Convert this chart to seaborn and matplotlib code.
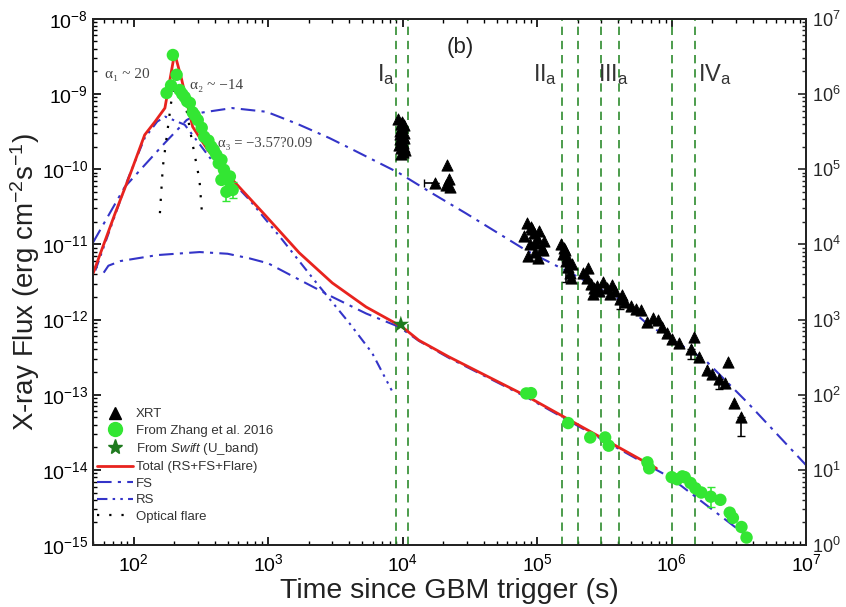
import numpy as np
import pandas as pd
import matplotlib
matplotlib.use("Agg")
import matplotlib.pyplot as plt
from matplotlib.lines import Line2D
import seaborn as sns

# ---------------- data ----------------
xrt_t = [9300, 9500, 9600, 9700, 9800, 9900, 10000, 10100, 10200, 10300, 10400, 9400, 9650, 9850,
         10050, 10250, 9550, 9750, 9950, 10150,
         17500, 21500, 22000, 22500, 21000,
         80000, 84000, 88000, 92000, 96000, 100000, 104000, 108000, 112000, 86000, 94000, 102000,
         110000, 90000, 98000,
         150000, 155000, 160000, 165000, 170000, 175000, 180000, 158000, 168000, 178000,
         220000, 235000, 250000, 265000, 280000, 240000, 260000, 290000,
         310000, 330000, 350000, 380000, 410000, 450000, 500000, 540000, 360000, 430000,
         590000, 660000, 790000, 720000, 850000, 930000, 1.0e6, 1.14e6, 1.47e6, 1.4e6, 1.6e6,
         1.83e6, 2.0e6, 2.24e6, 2.5e6, 2.6e6, 2.9e6, 3.3e6]
xrt_f = [4.6e-10, 3.2e-10, 2.5e-10, 4.0e-10, 1.9e-10, 3.6e-10, 2.8e-10, 2.2e-10, 3.0e-10, 2.6e-10,
         1.8e-10, 2.1e-10, 3.4e-10, 2.4e-10, 1.7e-10, 3.9e-10, 2.9e-10, 1.6e-10, 4.3e-10, 2.0e-10,
         6.5e-11, 1.15e-10, 7.5e-11, 5.8e-11, 6.2e-11,
         1.3e-11, 1.9e-11, 1.0e-11, 1.6e-11, 8e-12, 1.2e-11, 1.5e-11, 9e-12, 1.1e-11, 7e-12,
         1.4e-11, 6.5e-12, 8.5e-12, 1.7e-11, 1.05e-11,
         1e-11, 7.5e-12, 8.5e-12, 6e-12, 5e-12, 4.2e-12, 5.5e-12, 9e-12, 6.8e-12, 3.6e-12,
         4.2e-12, 3.6e-12, 3e-12, 2.6e-12, 2.8e-12, 4.8e-12, 2.2e-12, 2.4e-12,
         3.2e-12, 2.6e-12, 2.2e-12, 2.4e-12, 1.9e-12, 1.7e-12, 1.5e-12, 1.4e-12, 2.9e-12, 2.1e-12,
         1.35e-12, 9.3e-13, 9.9e-13, 1.05e-12, 8e-13, 6.6e-13, 5.5e-13, 4.9e-13, 5.8e-13, 4e-13,
         3.2e-13, 2.1e-13, 1.9e-13, 1.6e-13, 1.44e-13, 2.7e-13, 7.8e-14, 5e-14]
# a few visible error bars on XRT points
xrt_err_t = [17500, 3.3e6, 165000, 1.4e6, 2.24e6, 410000]
xrt_err_f = [6.5e-11, 5e-14, 6e-12, 4e-13, 1.6e-13, 1.9e-12]
xrt_err_tlo = [3000, 0, 0, 0, 0, 0]
xrt_err_thi = [0, 0, 0, 0, 0, 0]
xrt_err_flo = [0, 2.2e-14, 2.8e-12, 1e-13, 4e-14, 5e-13]
xrt_err_fhi = [0, 0, 0, 0, 0, 0]

zhang_t = [196, 190, 176, 209, 220, 230, 240, 250, 262, 275, 285, 300, 321, 335, 360, 378, 395,
           412, 430, 450, 470, 450, 500, 490, 520, 545,
           83000, 90000, 1.7e5, 2.48e5, 3.2e5, 3.4e5, 6.6e5, 6.8e5, 1.0e6, 1.1e6, 1.2e6, 1.25e6,
           1.38e6, 1.5e6, 1.66e6, 1.95e6, 2.3e6, 2.7e6, 2.85e6, 3.3e6, 3.6e6]
zhang_f = [3.3e-9, 1.3e-9, 1.03e-9, 1.8e-9, 1.13e-9, 1.0e-9, 9.1e-10, 8e-10, 7.6e-10, 5.7e-10,
           5.2e-10, 4.5e-10, 3.55e-10, 2.7e-10, 2.4e-10, 2e-10, 1.8e-10, 1.56e-10, 1.2e-10, 1.33e-10,
           9.8e-11, 7.2e-11, 7.2e-11, 5e-11, 8e-11, 5.3e-11,
           1.04e-13, 1.05e-13, 4.2e-14, 2.7e-14, 2.7e-14, 2.1e-14, 1.26e-14, 1.05e-14, 8e-15, 7.5e-15,
           8.2e-15, 8e-15, 6.7e-15, 5.7e-15, 5e-15, 4.4e-15, 4e-15, 2.7e-15, 2.3e-15, 1.74e-15, 1.26e-15]
zhang_err_t = [490, 545, 1.95e6]
zhang_err_f = [5e-11, 5.3e-11, 4.4e-15]
zhang_err_lo = [1.2e-11, 1.2e-11, 1.2e-15]
zhang_err_hi = [1.5e-11, 1.5e-11, 1.5e-15]

swift_t = [9700]
swift_f = [8.6e-13]

total_t = [50, 73, 91, 121, 144, 171, 202, 228, 275, 356, 500, 545, 940, 1706, 3000, 5350, 9900,
           13200, 22000, 86000, 770000]
total_f = [4.1e-12, 2.6e-11, 7.2e-11, 2.86e-10, 4.26e-10, 6.5e-10, 3.5e-9, 1.55e-9, 3.66e-10,
           1.8e-10, 8.9e-11, 7.2e-11, 2.5e-11, 7.7e-12, 3.07e-12, 1.47e-12, 8e-13, 5.3e-13, 3.2e-13,
           9.3e-14, 1.05e-14]

fs_x_t = [50, 86, 171, 248, 309, 540, 973, 1650, 2850, 4010, 9400, 16500, 29400, 82000, 1.8e5,
          4e5, 6.7e5, 1.77e6, 3.7e6, 1e7]
fs_x_f = [1.06e-11, 5.8e-11, 2.24e-10, 4.5e-10, 5.6e-10, 6.5e-10, 5.8e-10, 4.0e-10, 2.6e-10,
          1.92e-10, 8.9e-11, 4.8e-11, 2.6e-11, 8.4e-12, 4.1e-12, 1.9e-12, 8.5e-13, 2.9e-13, 7.7e-14,
          1.15e-14]

fs_o_t = [60, 65, 80, 150, 310, 500, 730, 1000, 1700, 3000, 5370, 9400, 13200, 22000, 86000,
          770000, 970000, 3.7e6]
fs_o_f = [4.2e-12, 5.2e-12, 6.0e-12, 7.2e-12, 7.9e-12, 7.5e-12, 6.5e-12, 5.6e-12, 3.4e-12, 2e-12,
          1.2e-12, 8e-13, 5.2e-13, 3.1e-13, 9e-14, 1.0e-14, 8e-15, 1.28e-15]

rs_t = [52, 70, 91, 121, 150, 172, 240, 380, 728, 1276, 2280, 4010, 5930, 8300]
rs_f = [4.5e-12, 2.0e-11, 7.5e-11, 2.6e-10, 4.3e-10, 5e-10, 3.9e-10, 1.33e-10, 3.9e-11, 1.15e-11,
        3.1e-12, 9e-13, 3.6e-13, 1.14e-13]

flare_t = [157, 165, 190, 209, 240, 271, 309, 321]
flare_f = [2.6e-11, 1.07e-10, 7.6e-10, 1.64e-9, 8.4e-10, 2.45e-10, 7.2e-11, 2.9e-11]

vlines_t = [8900, 11000, 1.52e5, 2.0e5, 3.0e5, 4.05e5, 1.0e6, 1.5e6]
region_labels = ["I", "II", "III", "IV"]
region_label_t = [6460, 92500, 2.85e5, 1.57e6]

right_ticks = [1e0, 1e1, 1e2, 1e3, 1e4, 1e5, 1e6, 1e7]

# ---------------- style ----------------
sns.set_theme(style="ticks")
plt.rcParams['font.family'] = ['Liberation Sans', 'DejaVu Sans']
plt.rcParams['mathtext.fontset'] = 'custom'
plt.rcParams['mathtext.rm'] = 'Liberation Sans'
plt.rcParams['mathtext.it'] = 'Liberation Sans:italic'
plt.rcParams['mathtext.bf'] = 'Liberation Sans:bold'

RED = "#e8231e"
BLUE = "#3434c8"
GREEN = "#33e633"
DGREEN = "#1f7a1f"
VGREEN = "#2e8b2e"

fig = plt.figure(figsize=(8.46, 6.07), dpi=100)
ax = fig.add_axes([0.110, 0.102, 0.843, 0.867])
ax.set_xscale('log')
ax.set_yscale('log')
ax.set_xlim(50, 1e7)
ax.set_ylim(1e-15, 1e-8)

# vertical dashed lines
for t in vlines_t:
    ax.axvline(t, color=VGREEN, lw=1.2, dashes=(5, 3.5), zorder=1)

# model curves
sns.lineplot(x=fs_x_t, y=fs_x_f, ax=ax, color=BLUE, lw=1.5, sort=False, estimator=None,
             zorder=3).lines[-1].set_dashes((7, 3, 1.5, 3))
sns.lineplot(x=fs_o_t, y=fs_o_f, ax=ax, color=BLUE, lw=1.5, sort=False, estimator=None,
             zorder=3).lines[-1].set_dashes((7, 3, 1.5, 3))
sns.lineplot(x=rs_t, y=rs_f, ax=ax, color=BLUE, lw=1.5, sort=False, estimator=None,
             zorder=3).lines[-1].set_dashes((5, 2.5, 1.2, 2.5, 1.2, 2.5))
sns.lineplot(x=flare_t, y=flare_f, ax=ax, color='black', lw=1.6, sort=False, estimator=None,
             zorder=3).lines[-1].set_dashes((1, 4.5))
sns.lineplot(x=total_t, y=total_f, ax=ax, color=RED, lw=2.0, sort=False, estimator=None, zorder=4)

# data
sns.scatterplot(x=zhang_t, y=zhang_f, ax=ax, color=GREEN, s=80, edgecolor='none', zorder=5)
ax.errorbar(zhang_err_t, zhang_err_f, yerr=[zhang_err_lo, zhang_err_hi], fmt='none',
            ecolor=GREEN, elinewidth=1.2, capsize=3, zorder=5)
sns.scatterplot(x=xrt_t, y=xrt_f, ax=ax, color='black', marker='^', s=65, edgecolor='black',
                zorder=6)
ax.errorbar(xrt_err_t, xrt_err_f, xerr=[xrt_err_tlo, xrt_err_thi], yerr=[xrt_err_flo, xrt_err_fhi],
            fmt='none', ecolor='black', elinewidth=1.2, capsize=3, zorder=6)
sns.scatterplot(x=swift_t, y=swift_f, ax=ax, color=DGREEN, marker='*', s=160, edgecolor='none',
                zorder=7)

# annotations
serif = ['Liberation Serif', 'DejaVu Serif']
ax.text(61, 1.8e-9, "α₁ ~ 20", fontsize=11, color='#444444', family=serif, va='center')
ax.text(262, 1.3e-9, "α₂ ~ −14", fontsize=11, color='#444444', family=serif, va='center')
ax.text(422, 2.2e-10, "α₃ = −3.57?0.09", fontsize=10.5, color='#444444', family=serif,
        va='center')
ax.text(27000, 4.1e-9, "(b)", fontsize=16, color='#222222', ha='center', va='center')
for lab, t in zip(region_labels, region_label_t):
    ax.text(t, 1.5e-9, lab + r"$_{\mathrm{a}}$", fontsize=17, color='#333333', ha='left',
            va='baseline')

# ticks
ax.tick_params(which='both', direction='in', top=True, right=False, labelsize=14, colors='black')
ax.tick_params(which='major', length=6, width=1.2)
ax.tick_params(which='minor', length=3, width=1.0)
ax.xaxis.set_minor_locator(matplotlib.ticker.LogLocator(base=10, subs=np.arange(2, 10)))
ax.yaxis.set_minor_locator(matplotlib.ticker.LogLocator(base=10, subs=np.arange(2, 10)))
ax.set_xticks([1e2, 1e3, 1e4, 1e5, 1e6, 1e7])
ax.set_yticks([1e-15, 1e-14, 1e-13, 1e-12, 1e-11, 1e-10, 1e-9, 1e-8])
ax.tick_params(axis='x', pad=6)
for s in ax.spines.values():
    s.set_linewidth(1.3)
    s.set_color('black')

ax.set_xlabel("Time since GBM trigger (s)", fontsize=20.5, color='#222222', labelpad=2)
ax.set_ylabel(r"X-ray Flux (erg cm$^{-2}$s$^{-1}$)", fontsize=20, color='#222222', labelpad=0)

ax2 = ax.twinx()
ax2.set_yscale('log')
ax2.set_ylim(1e0, 1e7)
ax2.set_yticks(right_ticks)
ax2.yaxis.set_minor_locator(matplotlib.ticker.LogLocator(base=10, subs=np.arange(2, 10)))
ax2.tick_params(which='both', direction='in', labelsize=13, pad=4)
ax2.tick_params(which='major', length=6, width=1.2)
ax2.tick_params(which='minor', length=3, width=1.0)
for s in ax2.spines.values():
    s.set_linewidth(1.3)

# legend
handles = [
    Line2D([], [], ls='none', marker='^', color='black', ms=9),
    Line2D([], [], ls='none', marker='o', color=GREEN, ms=10),
    Line2D([], [], ls='none', marker='*', color=DGREEN, ms=11),
    Line2D([], [], color=RED, lw=2),
    Line2D([], [], color=BLUE, lw=1.5, dashes=(7, 3, 1.5, 3)),
    Line2D([], [], color=BLUE, lw=1.5, dashes=(5, 2.5, 1.2, 2.5, 1.2, 2.5)),
    Line2D([], [], color='black', lw=1.6, dashes=(1, 4.5)),
]
labels = ["XRT", "From Zhang et al. 2016", r"From $\mathit{Swift}$ (U_band)",
          "Total (RS+FS+Flare)", "FS", "RS", "Optical flare"]
leg = ax.legend(handles, labels, loc='lower left', bbox_to_anchor=(0.0, 0.035), frameon=False,
                fontsize=9.5, handlelength=2.7, handletextpad=0.25, labelspacing=0.32,
                borderpad=0.2, borderaxespad=0.1)
for t in leg.get_texts():
    t.set_color('#333333')

fig.savefig("out.png", dpi=100)
